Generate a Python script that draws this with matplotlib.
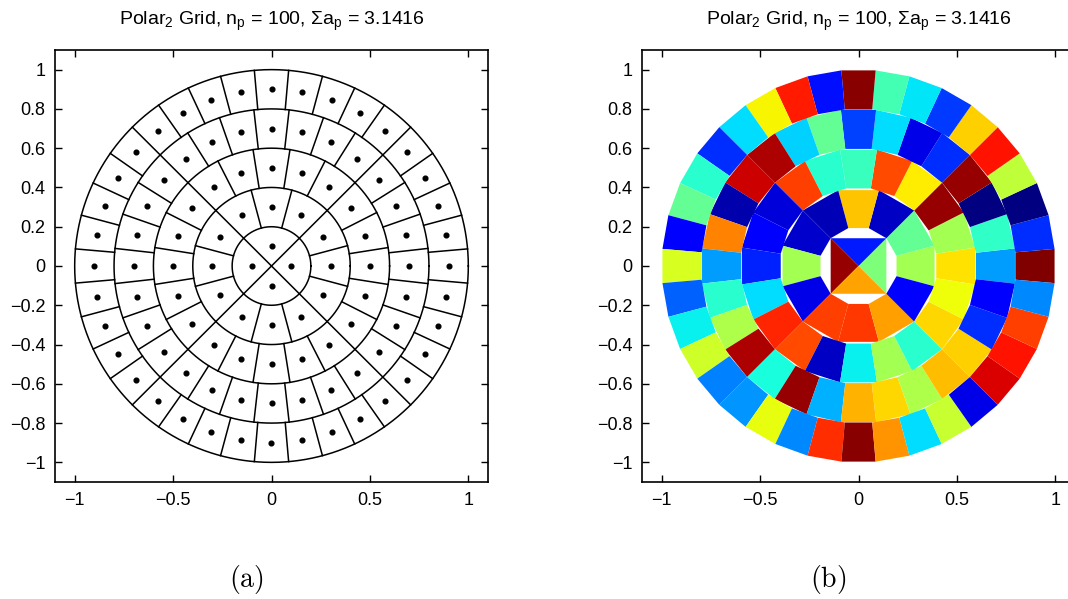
import matplotlib
matplotlib.use("Agg")
import matplotlib.pyplot as plt
import numpy as np
from matplotlib.patches import Polygon
from matplotlib.collections import PatchCollection

plt.rcParams['font.family'] = ['Liberation Sans', 'DejaVu Sans']
plt.rcParams['mathtext.fontset'] = 'custom'
plt.rcParams['mathtext.rm'] = 'Liberation Sans'
plt.rcParams['mathtext.it'] = 'Liberation Sans'

# grid definition: ring edges and number of cells in each ring
ring_edges = [0.0, 0.2, 0.4, 0.6, 0.8, 1.0]
cells_per_ring = [4, 12, 20, 28, 36]

# colour value (jet) of each cell, listed ring by ring, counter-clockwise from east
ring1_vals = [0.50, 0.15, 0.98, 0.735]
ring2_vals = [0.55, 0.47, 0.06, 0.70, 0.05, 0.07, 0.55, 0.09, 0.84, 0.85, 0.74, 0.11]
ring3_vals = [0.67, 0.55, 0.98, 0.66, 0.83, 0.42, 0.40, 0.84, 0.08, 0.12,
              0.16, 0.34, 0.87, 0.83, 0.06, 0.36, 0.55, 0.40, 0.68, 0.64]
ring4_vals = [0.28, 0.41, 0.00, 0.98, 0.17, 0.09, 0.34, 0.19, 0.47, 0.33,
              0.96, 0.93, 0.04, 0.77, 0.28, 0.40, 0.56, 0.96, 0.38, 0.98,
              0.30, 0.72, 0.68, 0.56, 0.71, 0.69, 0.17, 0.11]
ring5_vals = [1.00, 0.17, 0.00, 0.58, 0.89, 0.69, 0.18, 0.35, 0.43, 0.99,
              0.14, 0.88, 0.65, 0.34, 0.17, 0.40, 0.47, 0.12, 0.61, 0.22,
              0.36, 0.60, 0.25, 0.27, 0.63, 0.26, 0.86, 0.99, 0.75, 0.34,
              0.59, 0.09, 0.92, 0.89, 0.84, 0.26]
ring_vals = [ring1_vals, ring2_vals, ring3_vals, ring4_vals, ring5_vals]

x_ticks = [-1, -0.5, 0, 0.5, 1]
x_labels = ['\u22121', '\u22120.5', '0', '0.5', '1']
y_ticks = [-1, -0.8, -0.6, -0.4, -0.2, 0, 0.2, 0.4, 0.6, 0.8, 1]
y_labels = ['\u22121', '\u22120.8', '\u22120.6', '\u22120.4', '\u22120.2', '0',
            '0.2', '0.4', '0.6', '0.8', '1']

title = r'Polar$_2$ Grid, n$_p$ = 100, $\Sigma$a$_p$ = 3.1416'


def style_axes(ax):
    ax.set_xlim(-1.1, 1.1)
    ax.set_ylim(-1.1, 1.1)
    ax.set_xticks(x_ticks)
    ax.set_xticklabels(x_labels)
    ax.set_yticks(y_ticks)
    ax.set_yticklabels(y_labels)
    ax.tick_params(direction='in', top=True, right=True, labelsize=13,
                   length=5, width=1, pad=7)
    for sp in ax.spines.values():
        sp.set_linewidth(1.2)
    ax.set_title(title, fontsize=14, pad=18)


fig = plt.figure(figsize=(10.68, 5.99), dpi=100)
ax1 = fig.add_axes([55 / 1068, 117 / 599, 433 / 1068, 432 / 599])
ax2 = fig.add_axes([642 / 1068, 117 / 599, 433 / 1068, 432 / 599])

# (a) cell outlines and centres
t = np.linspace(0, 2 * np.pi, 721)
for k, n in enumerate(cells_per_ring):
    r_in, r_out = ring_edges[k], ring_edges[k + 1]
    ax1.plot(r_out * np.cos(t), r_out * np.sin(t), color='black', lw=1.1)
    dth = 2 * np.pi / n
    edges = (np.arange(n) + 0.5) * dth
    for a in edges:
        ax1.plot([r_in * np.cos(a), r_out * np.cos(a)],
                 [r_in * np.sin(a), r_out * np.sin(a)], color='black', lw=1.1)
    centres = np.arange(n) * dth
    rm = 0.5 * (r_in + r_out)
    ax1.plot(rm * np.cos(centres), rm * np.sin(centres), 'o', color='black',
             markersize=3.4)
style_axes(ax1)

# (b) cells filled as straight-edged polygons
patches, values = [], []
for k, n in enumerate(cells_per_ring):
    r_in, r_out = ring_edges[k], ring_edges[k + 1]
    dth = 2 * np.pi / n
    for j in range(n):
        a0, a1 = (j - 0.5) * dth, (j + 0.5) * dth
        if r_in == 0:
            pts = [(0, 0), (r_out * np.cos(a0), r_out * np.sin(a0)),
                   (r_out * np.cos(a1), r_out * np.sin(a1))]
        else:
            pts = [(r_in * np.cos(a0), r_in * np.sin(a0)),
                   (r_out * np.cos(a0), r_out * np.sin(a0)),
                   (r_out * np.cos(a1), r_out * np.sin(a1)),
                   (r_in * np.cos(a1), r_in * np.sin(a1))]
        patches.append(Polygon(pts, closed=True))
        values.append(ring_vals[k][j])
pc = PatchCollection(patches, cmap='jet', linewidths=0, edgecolors='none')
pc.set_array(np.array(values))
pc.set_clim(0, 1)
ax2.add_collection(pc)
style_axes(ax2)

fig.text(246 / 1068, 1 - 580 / 599, r'$\mathrm{(a)}$', ha='center', va='center',
         fontsize=20, math_fontfamily='cm')
fig.text(828 / 1068, 1 - 580 / 599, r'$\mathrm{(b)}$', ha='center', va='center',
         fontsize=20, math_fontfamily='cm')

fig.savefig('out.png', dpi=100)
